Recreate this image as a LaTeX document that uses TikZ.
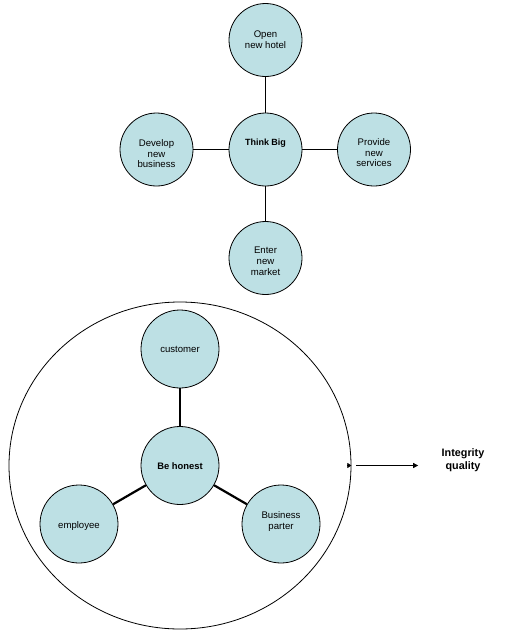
\documentclass[tikz,border=0pt]{standalone}
\usepackage{fontspec}
\setmainfont{Liberation Sans}
\usetikzlibrary{positioning,arrows.meta,shapes.geometric}
\definecolor{bubble}{RGB}{189,224,228}
% text moved inside its circle, box kept the same
\newcommand\movedtext[2]{\raisebox{#1}[\height][\depth]{%
  \begin{tabular}{@{}c@{}}#2\end{tabular}}}

\begin{document}
\begin{tikzpicture}[
  x=1pt,y=-1pt,
  every node/.style={align=center},
  idea/.style={circle,draw=black,line width=0.8pt,fill=bubble,
    minimum size=73pt,inner sep=0pt,font=\fontsize{9.6}{10.8}\selectfont},
  hub/.style={idea,font=\fontsize{9}{10.6}\selectfont\bfseries},
  value/.style={idea,minimum size=78pt},
  core/.style={value,font=\fontsize{9.4}{10.6}\selectfont\bfseries},
  link/.style={draw=black,line width=1.8pt}
]
  \useasboundingbox (0,0) rectangle (516,638);

  % Think Big
  \node[hub]  (big)     at (265.5,149.5) {\movedtext{6pt}{Think Big}};
  \node[idea] (hotel)   at (265.5,40)    {Open\\new hotel};
  \node[idea] (develop) at (156.5,149.5)
    {\movedtext{-5.5pt}{Develop\\new\\business}};
  \node[idea] (provide) at (374,149.5)
    {\movedtext{-4.5pt}{Provide\\new\\services}};
  \node[idea] (enter)   at (265.5,258)
    {\movedtext{-4.5pt}{Enter\\new\\market}};

  \draw[link] (hotel) -- (big);
  \draw[link] (develop) -- (big);
  \draw[link] (big) -- (provide);
  \draw[link] (big) -- (enter);

  % Be honest
  \node[ellipse,draw=black,line width=0.8pt,minimum width=342pt,
    minimum height=327pt,inner sep=0pt] (ring) at (180,465.5) {};

  \node[core]  (honest)   at (180,465.5) {\movedtext{-2pt}{Be honest}};
  \node[value] (customer) at (180,349)   {customer};
  \node[value] (employee) at (79,524)    {\movedtext{-2.5pt}{employee}};
  \node[value] (partner)  at (281,524)   {\movedtext{2pt}{Business\\parter}};

  \draw[link,line width=2.2pt] (customer) -- (honest);
  \draw[link,line width=2.2pt] (employee) -- (honest);
  \draw[link,line width=2.2pt] (honest) -- (partner);

  % Integrity
  \node[font=\fontsize{10.8}{12.8}\selectfont\bfseries] (goal)
    at (463,460) {Integrity\\quality};

  \draw[-{Triangle[length=4pt,width=5pt]}] ([xshift=-4pt]ring.east)
    -- (ring.east);
  \draw[line width=0.6pt,-{Triangle[length=5pt,width=5pt]}]
    ([xshift=5pt]ring.east) -- ([xshift=-20pt]goal.west |- ring.east);
\end{tikzpicture}
\end{document}
